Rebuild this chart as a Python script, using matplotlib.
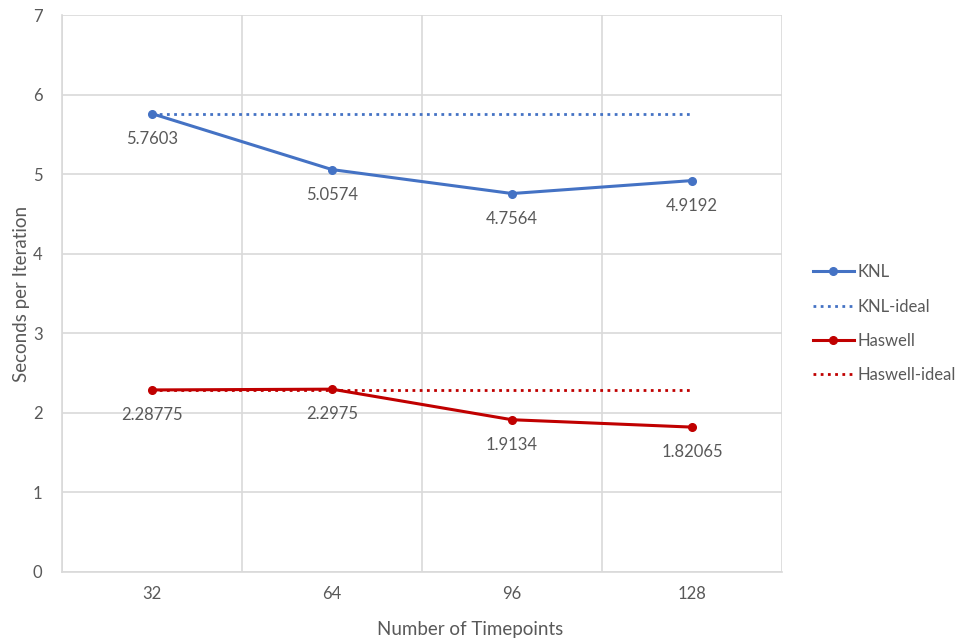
import numpy as np
import matplotlib.pyplot as plt

plt.rcParams['font.family'] = ['Lato', 'DejaVu Sans']

timepoints = ['32', '64', '96', '128']
knl = [5.7603, 5.0574, 4.7564, 4.9192]
haswell = [2.28775, 2.2975, 1.9134, 1.82065]
knl_ideal = [knl[0]] * len(timepoints)
haswell_ideal = [haswell[0]] * len(timepoints)

blue = '#4472C4'
red = '#C00000'
grey = '#595959'
grid = '#D9D9D9'

fig = plt.figure(figsize=(9.61, 6.39), dpi=100)
ax = fig.add_axes([0.0645, 0.1049, 0.7492, 0.8716])
x = np.arange(len(timepoints))

ax.plot(x, knl, color=blue, lw=2.2, marker='o', ms=5.5, label='KNL', zorder=3)
ax.plot(x, knl_ideal, color=blue, lw=2, ls=(0, (1, 1.6)), label='KNL-ideal', zorder=2)
ax.plot(x, haswell, color=red, lw=2.2, marker='o', ms=5.5, label='Haswell', zorder=3)
ax.plot(x, haswell_ideal, color=red, lw=2, ls=(0, (1, 1.6)), label='Haswell-ideal', zorder=2)

# value labels under each point
for series in (knl, haswell):
    for i, v in enumerate(series):
        ax.annotate(f'{v:g}', (x[i], v), xytext=(0, -18), textcoords='offset points',
                    ha='center', va='center', fontsize=12, color=grey)

ax.set_xlim(-0.5, 3.5)
ax.set_ylim(0, 7)
ax.set_xticks(x)
ax.set_xticklabels(timepoints)
ax.set_xticks(np.arange(-0.5, 4, 1), minor=True)
ax.set_yticks(range(0, 8))
ax.grid(True, which='minor', axis='x', color=grid, lw=1.2)
ax.grid(True, which='major', axis='y', color=grid, lw=1.2)
ax.tick_params(which='both', length=0, labelsize=12, colors=grey, pad=10)
ax.tick_params(axis='y', pad=14)
for s in ['top', 'right']:
    ax.spines[s].set_visible(False)
for s in ['left', 'bottom']:
    ax.spines[s].set_color(grid)
    ax.spines[s].set_linewidth(1.2)
ax.set_axisbelow(True)

ax.set_xlabel('Number of Timepoints', fontsize=13.5, color=grey)
ax.xaxis.set_label_coords(0.567, -0.088)
ax.set_ylabel('Seconds per Iteration', fontsize=13.5, color=grey, labelpad=2)

fig.legend(loc='upper left', bbox_to_anchor=(0.83, 0.61), frameon=False,
           fontsize=12, labelcolor=grey, handlelength=2.5, handletextpad=0.2,
           labelspacing=1.1)

fig.savefig('out.png', dpi=100)
